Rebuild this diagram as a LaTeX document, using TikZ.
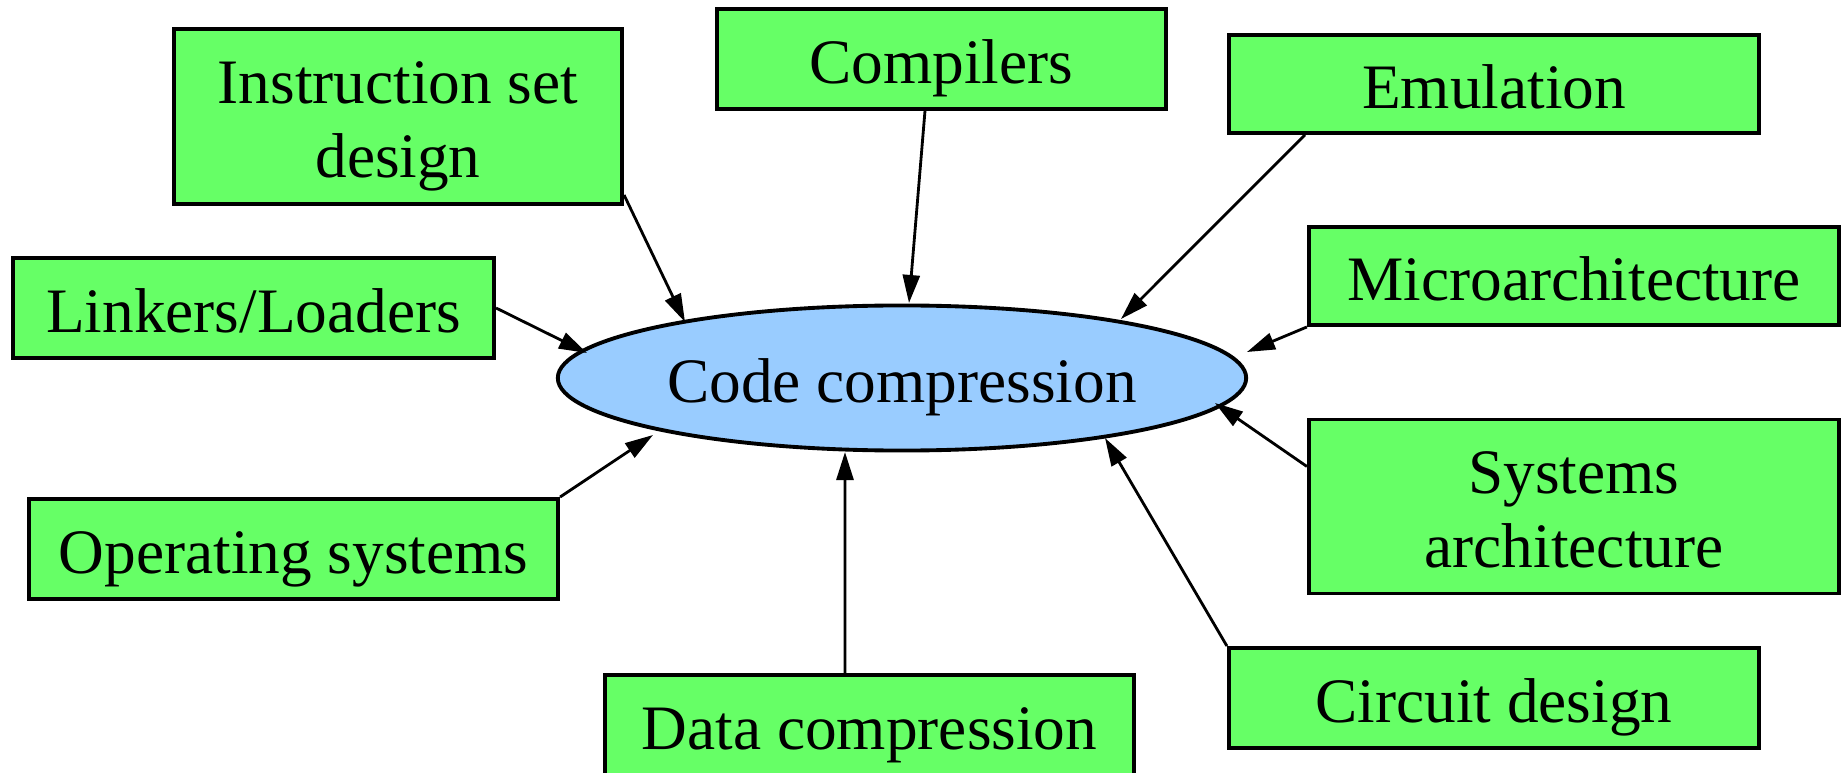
\documentclass[tikz,border=0pt]{standalone}
\usepackage{fontspec}
\setmainfont{Liberation Serif}
\newfontfamily\labelfont{Liberation Serif}
\usetikzlibrary{shapes.geometric,arrows.meta}
\definecolor{boxgreen}{HTML}{66FF66}
\definecolor{hubblue}{HTML}{99CCFF}
% struts that fix where the baselines sit inside every shape
\newcommand\labtop{\rule{0pt}{18pt}}
\newcommand\labbot{\rule[-4.34pt]{0pt}{4.34pt}}
\newcommand\labone[1]{\labtop\labbot #1}
\newcommand\labtwo[2]{\labtop #1\\\labbot #2}
\begin{document}
\begin{tikzpicture}[x=0.01cm,y=-0.01cm,
  topic/.style={draw,line width=1.1pt,fill=boxgreen,inner sep=0pt,align=center,
    font=\labelfont\fontsize{18}{21.3}\selectfont},
  hub/.style={ellipse,draw,line width=1.1pt,fill=hubblue,inner sep=0pt,
    minimum width=6.88cm,minimum height=1.45cm,font=\labelfont\fontsize{18}{21.3}\selectfont},
  feed/.style={line width=0.8pt,-{Triangle[length=0.28cm,width=0.17cm]}}]
\clip (0,0) rectangle (1841,773);

% central topic
\node[hub] (cc) at (902,378) {\labone{Code compression}};

% surrounding topics
\node[topic,minimum width=4.48cm,minimum height=1.75cm] (isd)   at (398,116.5) {\labtwo{Instruction set}{design}};
\node[topic,minimum width=4.49cm,minimum height=1.00cm] (comp)  at (941.5,59) {\labone{Compilers}};
\node[topic,minimum width=5.30cm,minimum height=0.98cm] (emu)   at (1494,84) {\labone{Emulation}};
\node[topic,minimum width=4.81cm,minimum height=1.00cm] (link)  at (253.5,308) {\labone{Linkers/Loaders}};
\node[topic,minimum width=5.30cm,minimum height=0.98cm] (micro) at (1574,276) {\labone{Microarchitecture}};
\node[topic,minimum width=5.29cm,minimum height=1.00cm] (os)    at (293.5,549) {\labone{Operating systems}};
\node[topic,minimum width=5.30cm,minimum height=1.74cm] (sys)   at (1574,506.5) {\labtwo{Systems}{architecture}};
\node[topic,minimum width=5.29cm,minimum height=1.00cm] (data)  at (869.5,725) {\labone{Data compression}};
\node[topic,minimum width=5.30cm,minimum height=1.00cm] (circ)  at (1494,698) {\labone{Circuit design}};

% influences, each ending on the rim of the central topic
\draw[feed] ([yshift=0.11cm]isd.south east)  -- ([shift={(-217,-56)}]cc.center);
\draw[feed] ([xshift=-0.165cm]comp.south)    -- ([shift={(7,-75)}]cc.center);
\draw[feed] ([xshift=0.78cm]emu.south west)  -- ([shift={(219,-59)}]cc.center);
\draw[feed] (link.east)                      -- ([shift={(-315,-25)}]cc.center);
\draw[feed] (micro.south west)               -- ([shift={(345,-26)}]cc.center);
\draw[feed] (os.north east)                  -- ([shift={(-249,57)}]cc.center);
\draw[feed] ([xshift=-0.245cm]data.north)    -- ([shift={(-57,74)}]cc.center);
\draw[feed] (circ.north west)                 -- ([shift={(203,60)}]cc.center);
\draw[feed] ([yshift=0.4cm]sys.west)         -- ([shift={(313,25)}]cc.center);
\end{tikzpicture}
\end{document}
